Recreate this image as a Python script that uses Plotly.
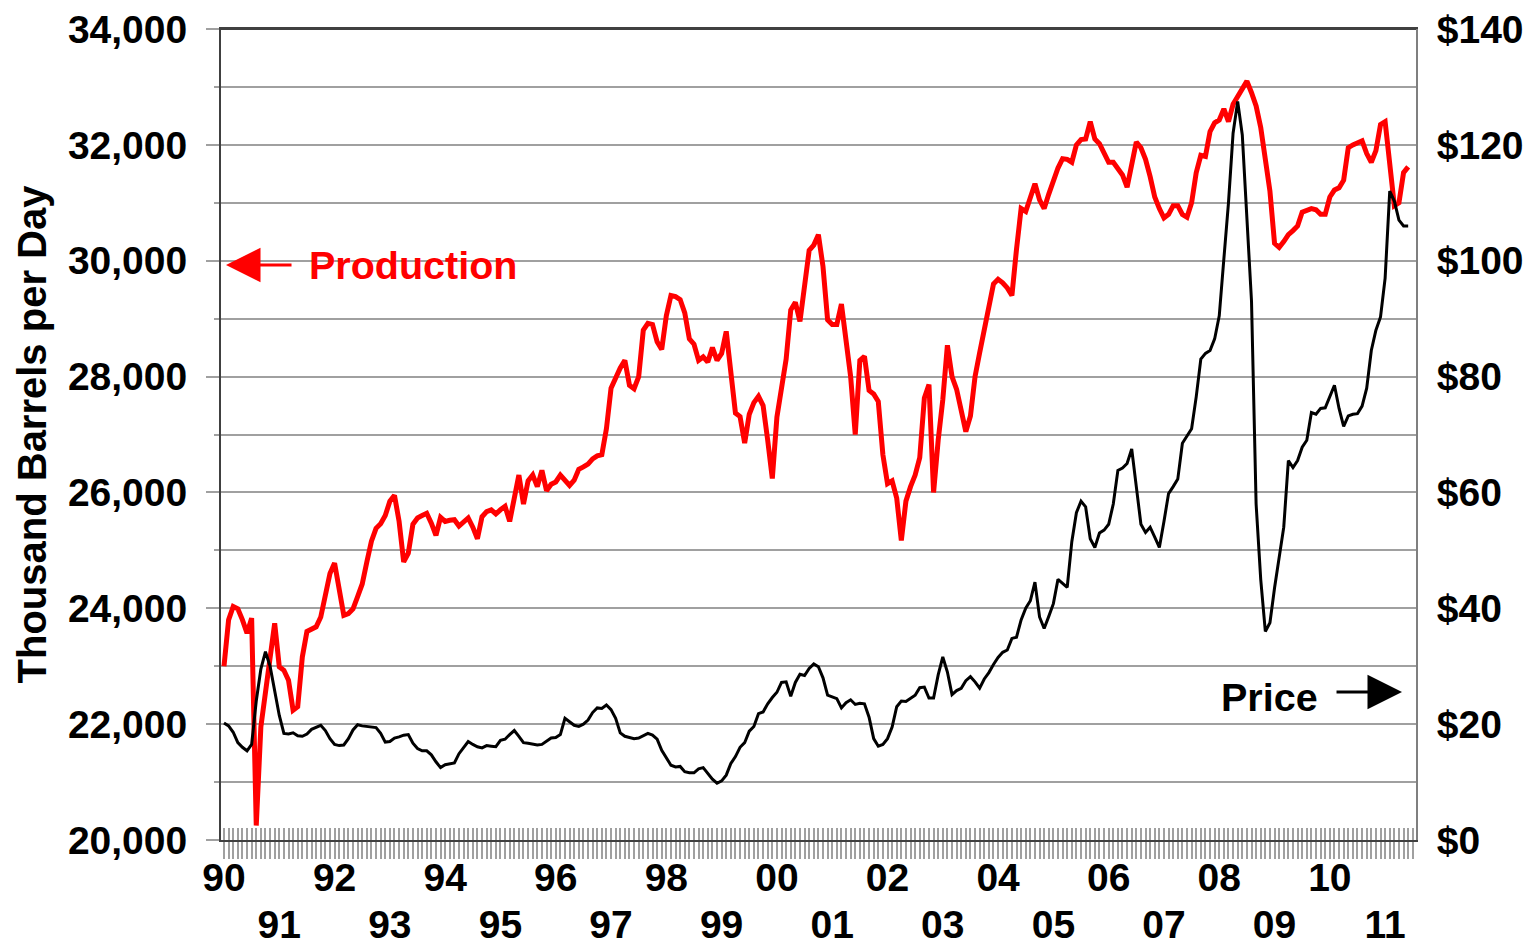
import plotly.graph_objects as go

# year labels on the x axis (one per January)
YEARS = ["90", "91", "92", "93", "94", "95", "96", "97", "98", "99", "00",
         "01", "02", "03", "04", "05", "06", "07", "08", "09", "10", "11"]

# monthly production, thousand barrels per day (Jan 1990 - Jun 2011)
production = [
    23000, 23800, 24030, 23990, 23800, 23570, 23830, 20250, 21950, 22530, 23220, 23740,  # 1990
    22990, 22930, 22760, 22240, 22300, 23160, 23600, 23630, 23680, 23850, 24250, 24600,  # 1991
    24780, 24350, 23880, 23910, 23990, 24200, 24420, 24800, 25160, 25380, 25460, 25600,  # 1992
    25850, 25950, 25500, 24800, 24950, 25450, 25560, 25600, 25640, 25470, 25260, 25570,  # 1993
    25500, 25520, 25530, 25420, 25490, 25560, 25400, 25200, 25580, 25670, 25700, 25630,  # 1994
    25700, 25760, 25500, 25950, 26300, 25800, 26200, 26300, 26100, 26380, 26030, 26140,  # 1995
    26180, 26300, 26200, 26120, 26210, 26400, 26440, 26490, 26580, 26630, 26650, 27100,  # 1996
    27800, 28000, 28150, 28280, 27850, 27790, 28000, 28800, 28920, 28900, 28600, 28470,  # 1997
    29050, 29400, 29380, 29330, 29100, 28650, 28560, 28280, 28340, 28250, 28500, 28280,  # 1998
    28400, 28780, 28150, 27370, 27310, 26850, 27350, 27550, 27660, 27500, 26900, 26240,  # 1999
    27300, 27850, 28300, 29150, 29280, 28950, 29500, 30180, 30270, 30450, 29900, 28980,  # 2000
    28900, 28900, 29250, 28700, 28000, 27000, 28280, 28350, 27760, 27700, 27570, 26650,  # 2001
    26150, 26200, 25900, 25170, 25850, 26100, 26300, 26600, 27630, 27860, 26000, 26900,  # 2002
    27600, 28540, 28000, 27780, 27400, 27050, 27320, 28000, 28410, 28820, 29160, 29600,  # 2003
    29680, 29620, 29530, 29400, 30200, 30900, 30850, 31080, 31330, 31050, 30900, 31150,  # 2004
    31400, 31600, 31760, 31750, 31700, 32000, 32090, 32100, 32400, 32100, 32020, 31880,  # 2005
    31700, 31700, 31600, 31480, 31270, 31700, 32050, 31950, 31750, 31450, 31100, 30900,  # 2006
    30740, 30800, 30950, 30950, 30800, 30750, 31000, 31520, 31820, 31800, 32230, 32380,  # 2007
    32430, 32620, 32400, 32700, 32840, 33000, 33100, 32900, 32670, 32300, 31800, 31200,  # 2008
    30300, 30230, 30330, 30450, 30520, 30600, 30840, 30880, 30900, 30880, 30800, 30800,  # 2009
    31100, 31220, 31260, 31390, 31950, 32000, 32040, 32070, 31850, 31700, 31900, 32350,  # 2010
    32400, 31700, 30950, 31000, 31520, 31620,                                            # 2011
]

# monthly price, dollars per barrel
price = [
    20.2, 19.7, 18.6, 16.8, 16.0, 15.4, 16.5, 24.0, 29.5, 32.5, 30.0, 25.5,   # 1990
    21.5, 18.4, 18.3, 18.5, 18.0, 17.9, 18.3, 19.1, 19.4, 19.8, 18.9, 17.5,   # 1991
    16.5, 16.3, 16.4, 17.5, 19.0, 19.9, 19.7, 19.6, 19.6, 19.4, 18.4, 16.9,   # 1992
    17.0, 17.6, 17.8, 18.1, 18.2, 16.7, 15.8, 15.4, 15.4, 14.7, 13.5, 12.5,   # 1993
    13.0, 13.1, 13.3, 14.9, 15.9, 17.0, 16.5, 16.1, 15.9, 16.3, 16.2, 16.1,   # 1994
    17.2, 17.4, 18.2, 18.9, 17.9, 16.8, 16.7, 16.6, 16.4, 16.5, 17.0, 17.6,   # 1995
    17.7, 18.2, 21.0, 20.4, 19.8, 19.6, 20.0, 20.7, 22.0, 22.8, 22.7, 23.3,   # 1996
    22.5, 21.0, 18.5, 17.9, 17.7, 17.5, 17.6, 18.0, 18.4, 18.1, 17.4, 15.5,   # 1997
    14.2, 12.9, 12.6, 12.7, 11.8, 11.6, 11.6, 12.3, 12.5, 11.5, 10.5, 9.8,    # 1998
    10.2, 11.2, 13.2, 14.4, 16.0, 16.8, 18.8, 19.6, 21.8, 22.1, 23.5, 24.6,   # 1999
    25.5, 27.2, 27.3, 24.8, 27.2, 28.6, 28.4, 29.6, 30.4, 29.9, 28.0, 25.0,   # 2000
    24.7, 24.4, 22.8, 23.7, 24.2, 23.4, 23.6, 23.5, 21.2, 17.5, 16.2, 16.5,   # 2001
    17.5, 19.5, 23.0, 24.0, 23.9, 24.5, 25.0, 26.3, 26.4, 24.5, 24.5, 28.5,   # 2002
    31.6, 29.0, 25.1, 25.8, 26.2, 27.5, 28.2, 27.3, 26.2, 27.8, 28.9, 30.3,   # 2003
    31.5, 32.4, 32.8, 34.8, 35.0, 38.0, 40.0, 41.3, 44.5, 38.5, 36.5, 38.6,   # 2004
    40.8, 45.0, 44.3, 43.6, 51.5, 56.5, 58.5, 57.5, 52.0, 50.5, 53.0, 53.5,   # 2005
    54.5, 58.0, 63.8, 64.2, 65.0, 67.5, 61.0, 54.5, 53.1, 54.0, 52.3, 50.5,   # 2006
    55.0, 59.8, 61.0, 62.3, 68.5, 69.8, 71.0, 76.5, 83.0, 84.0, 84.5, 86.5,   # 2007
    90.5, 100.3, 110.0, 122.0, 127.5, 121.7, 107.0, 93.0, 58.0, 45.0, 36.0, 37.5,  # 2008
    43.5, 48.5, 54.0, 65.5, 64.3, 65.5, 67.8, 69.0, 73.8, 73.5, 74.5, 74.6,   # 2009
    76.5, 78.5, 74.5, 71.4, 73.2, 73.5, 73.6, 74.9, 78.0, 84.5, 88.0, 90.3,   # 2010
    97.0, 112.0, 110.3, 107.0, 106.0, 106.0,                                   # 2011
]

months = list(range(len(production)))

FONT = "Liberation Sans"
GRID = "#a0a0a0"
X_RANGE = [-0.65, 258.7]

# every month gets a tick; January of even years labelled on the first row,
# odd years on the second row (drawn by the overlaid axis)
tick_months = list(range(0, 259))
even_text = []
odd_text = []
for m in tick_months:
    k = m // 12
    is_jan = m % 12 == 0 and k < len(YEARS)
    even_text.append(YEARS[k] if is_jan and k % 2 == 0 else "")
    odd_text.append(YEARS[k] if is_jan and k % 2 == 1 else "")

tick_font = dict(family=FONT, size=39, color="black", weight="bold")

fig = go.Figure()

fig.add_trace(go.Scatter(x=months, y=production,
                         mode="lines",
                         line=dict(color="#ff0000", width=5),
                         name="Production",
                         showlegend=False))

fig.add_trace(go.Scatter(x=months, y=price,
                         xaxis="x2", yaxis="y2",
                         mode="lines",
                         line=dict(color="black", width=3),
                         name="Price",
                         showlegend=False))

# the page body adds an 8px offset, so the figure is 8px smaller than the window
fig.update_layout(
    width=1523, height=934,
    margin=dict(l=213, r=115, t=21, b=102),
    paper_bgcolor="white",
    plot_bgcolor="white",
    showlegend=False,

    # months, ticks below the axis + even year labels
    xaxis=dict(range=X_RANGE, tickmode="array",
               tickvals=tick_months, ticktext=even_text,
               ticks="outside", ticklen=17, tickwidth=2, tickcolor=GRID,
               tickangle=0, tickfont=tick_font, ticklabelstandoff=-15,
               ticklabeloverflow="allow",
               showgrid=False, zeroline=False,
               showline=True, linecolor="#404040", linewidth=2, mirror=True,
               automargin=False),
    # same months, ticks above the axis + odd year labels
    xaxis2=dict(range=X_RANGE, overlaying="x", side="bottom",
                tickmode="array", tickvals=tick_months, ticktext=odd_text,
                ticks="inside", ticklen=12, tickwidth=2, tickcolor=GRID,
                tickangle=0, tickfont=tick_font, ticklabelstandoff=58,
                ticklabeloverflow="allow",
                showgrid=False, zeroline=False,
                showline=False, automargin=False),

    yaxis=dict(range=[20000, 34000], dtick=2000, tick0=20000,
               tickformat=",", tickfont=tick_font, ticklabelstandoff=11,
               ticklabeloverflow="allow",
               ticks="outside", ticklen=13, tickwidth=2, tickcolor=GRID,
               showgrid=True, gridcolor=GRID, gridwidth=2,
               minor=dict(dtick=1000, tick0=20000, ticks="outside", ticklen=5,
                          tickwidth=2, tickcolor=GRID,
                          showgrid=True, gridcolor=GRID, gridwidth=2),
               zeroline=False,
               showline=True, linecolor="#404040", linewidth=2,
               title=dict(text="Thousand Barrels per Day",
                          font=dict(family=FONT, size=40, color="black", weight="bold"),
                          standoff=9),
               automargin=False),
    yaxis2=dict(range=[0, 140], dtick=20, tick0=0,
                overlaying="y", side="right",
                tickprefix="$", tickfont=tick_font,
                ticks="", ticklabelstandoff=11,
                ticklabeloverflow="allow",
                showgrid=False, zeroline=False,
                showline=True, linecolor="#7f7f7f", linewidth=2,
                automargin=False),
)

# top edge of the frame
fig.add_shape(type="line", xref="paper", yref="paper", x0=0, x1=1, y0=1, y1=1,
              line=dict(color="#404040", width=2))

# series labels with their arrows
fig.add_annotation(xref="paper", yref="paper", x=0.072, y=0.709,
                   text="Production", showarrow=False,
                   xanchor="left", yanchor="middle",
                   font=dict(family=FONT, size=39.5, color="#ff0000", weight="bold"))
fig.add_annotation(xref="paper", yref="paper", x=0.0042, y=0.709,
                   text="", showarrow=True, ax=67, ay=0,
                   arrowhead=2, arrowsize=2.3, arrowwidth=3, arrowcolor="#ff0000")

fig.add_annotation(xref="paper", yref="paper", x=0.9197, y=0.1763,
                   text="Price", showarrow=False,
                   xanchor="right", yanchor="middle",
                   font=dict(family=FONT, size=39.5, color="black", weight="bold"))
fig.add_annotation(xref="paper", yref="paper", x=0.9883, y=0.1825,
                   text="", showarrow=True, ax=-67, ay=0,
                   arrowhead=2, arrowsize=2.3, arrowwidth=3, arrowcolor="black")

fig.write_html("out.html")
